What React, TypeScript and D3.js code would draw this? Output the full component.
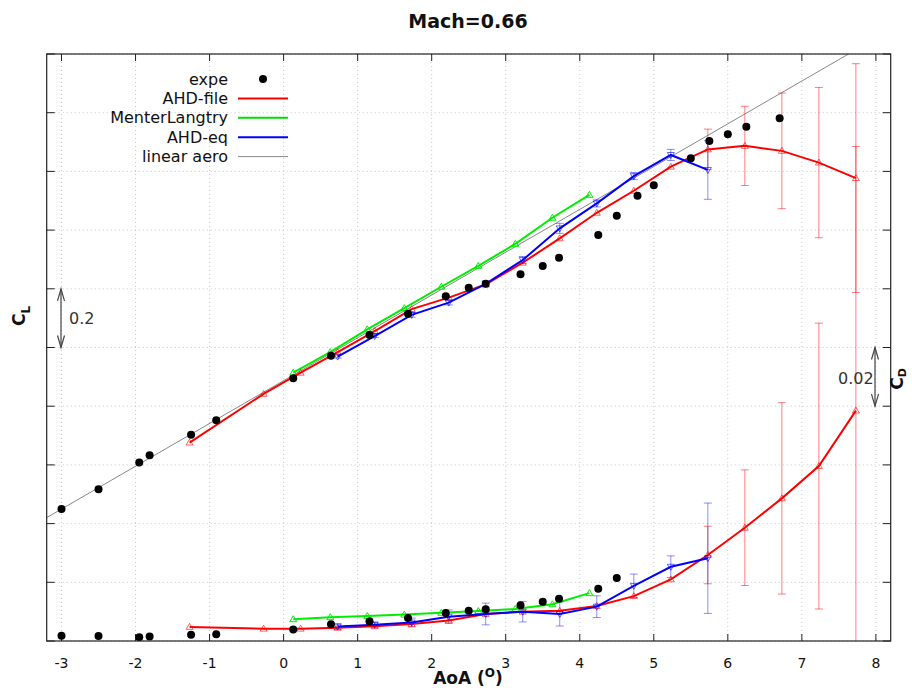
import React from 'react';
import * as d3 from 'd3';

// ---------- data ----------
const expeAoA = [-3.0, -2.5, -1.95, -1.81, -1.25, -0.91, 0.13, 0.64, 1.16, 1.68, 2.19, 2.5, 2.73, 3.2, 3.5, 3.72, 4.25, 4.5, 4.78, 5.0, 5.5, 5.75, 6.0, 6.25, 6.7];
const expeCL = [0.05, 0.117, 0.208, 0.233, 0.303, 0.352, 0.495, 0.572, 0.643, 0.715, 0.775, 0.804, 0.817, 0.85, 0.878, 0.906, 0.983, 1.049, 1.117, 1.153, 1.245, 1.304, 1.327, 1.352, 1.381];
const expeCDAoA = [-3.0, -2.5, -1.95, -1.81, -1.25, -0.91, 0.13, 0.64, 1.16, 1.68, 2.19, 2.5, 2.73, 3.2, 3.5, 3.72, 4.25, 4.5];
const expeCD = [0.0068, 0.0067, 0.0063, 0.0065, 0.0071, 0.0073, 0.0089, 0.0107, 0.0117, 0.0128, 0.0145, 0.0153, 0.0158, 0.0172, 0.0184, 0.0194, 0.0228, 0.0265];

const ahdFileAoA = [-1.27, -0.27, 0.23, 0.73, 1.23, 1.73, 2.23, 2.73, 3.23, 3.73, 4.23, 4.73, 5.23, 5.73, 6.23, 6.73, 7.23, 7.73];
const ahdFileCL = [0.276, 0.442, 0.514, 0.584, 0.656, 0.731, 0.77, 0.815, 0.889, 0.972, 1.059, 1.134, 1.216, 1.275, 1.287, 1.27, 1.23, 1.177];
const ahdFileCLErr = [0, 0, 0, 0, 0, 0, 0, 0, 0, 0, 0, 0, 0, 0.069, 0.135, 0.197, 0.256, 0.39];
const ahdFileCD = [0.0098, 0.0092, 0.0092, 0.0095, 0.01, 0.0108, 0.012, 0.0142, 0.015, 0.0153, 0.0169, 0.0203, 0.026, 0.0343, 0.0436, 0.0536, 0.0646, 0.0835];
const ahdFileCDErr = [0, 0, 0, 0, 0, 0, 0, 0, 0, 0, 0, 0, 0, 0.0098, 0.0197, 0.0326, 0.0487, 0.09];

const menterAoA = [0.13, 0.63, 1.13, 1.63, 2.13, 2.63, 3.13, 3.63, 4.13];
const menterCL = [0.514, 0.584, 0.662, 0.734, 0.807, 0.878, 0.953, 1.042, 1.12];
const menterCD = [0.0124, 0.0131, 0.0135, 0.014, 0.0146, 0.0152, 0.0159, 0.0175, 0.0213];

const ahdEqAoA = [0.73, 1.23, 1.73, 2.23, 2.73, 3.23, 3.73, 4.23, 4.73, 5.23, 5.73];
const ahdEqCL = [0.569, 0.639, 0.711, 0.753, 0.817, 0.898, 1.006, 1.091, 1.184, 1.256, 1.205];
const ahdEqCLErr = [0.005, 0.005, 0.008, 0.008, 0.01, 0.012, 0.017, 0.012, 0.012, 0.019, 0.1];
const ahdEqCD = [0.0099, 0.0105, 0.0113, 0.0133, 0.0142, 0.015, 0.0142, 0.0167, 0.0238, 0.0303, 0.0332];
const ahdEqCDErr = [0.001, 0.001, 0.0015, 0.0023, 0.0037, 0.0035, 0.0041, 0.0037, 0.004, 0.0037, 0.0188];

const linearAoA = [-3.2, 8.2];
const linearCL = [0.0204, 1.683];

const xTicks = [-3, -2, -1, 0, 1, 2, 3, 4, 5, 6, 7, 8];
const clTicks = [-0.4, -0.2, 0, 0.2, 0.4, 0.6, 0.8, 1.0, 1.2, 1.4, 1.6];

const legendNames = ['expe', 'AHD-file', 'MenterLangtry', 'AHD-eq', 'linear aero'];
const legendColors = ['#000', '#ff0000', '#00dd00', '#0000ff', '#888888'];

// ---------- layout ----------
const W = 912, H = 688;
const L = 46.7, R = 890.7, T = 54, B = 641;
const FONT = 'DejaVu Sans, sans-serif';

export default function App() {
  const x = d3.scaleLinear().domain([-3.2, 8.2]).range([L, R]);
  const yCL = d3.scaleLinear().domain([-0.4, 1.6]).range([B, T]);
  const yCD = d3.scaleLinear().domain([0.005, 0.205]).range([B, T]);

  const line = (xs: number[], ys: number[], ys2: (v: number) => number) =>
    d3.line<number>().x((_, i) => x(xs[i])).y((v) => ys2(v))(ys) || '';

  const triUp = (cx: number, cy: number, s = 3.5) =>
    `M${cx},${cy - s}L${cx + s},${cy + s * 0.7}L${cx - s},${cy + s * 0.7}Z`;
  const triDown = (cx: number, cy: number, s = 3.5) =>
    `M${cx},${cy + s}L${cx + s},${cy - s * 0.7}L${cx - s},${cy - s * 0.7}Z`;

  const errBars = (xs: number[], vs: number[], es: number[], ys: (v: number) => number, color: string, op: number, key: string) =>
    xs.map((a, i) => {
      const e = es[i];
      if (!e) return null;
      const px = x(a);
      const y1 = ys(vs[i] - e), y2 = ys(vs[i] + e);
      return (
        <g key={key + i} stroke={color} strokeOpacity={op} strokeWidth={1}>
          <line x1={px} x2={px} y1={y1} y2={y2} />
          <line x1={px - 4} x2={px + 4} y1={y1} y2={y1} />
          <line x1={px - 4} x2={px + 4} y1={y2} y2={y2} />
        </g>
      );
    });

  const arrow = (ax: number, y1: number, y2: number) => (
    <g stroke="#444" strokeWidth={1.2} fill="none">
      <line x1={ax} x2={ax} y1={y1} y2={y2} />
      <path d={`M${ax - 3.5},${y1 + 12}L${ax},${y1}L${ax + 3.5},${y1 + 12}`} />
      <path d={`M${ax - 3.5},${y2 - 12}L${ax},${y2}L${ax + 3.5},${y2 - 12}`} />
    </g>
  );

  return (
    <svg width={W} height={H} style={{ position: 'absolute', left: 0, top: 0, background: '#fff' }} fontFamily={FONT}>
      <defs>
        <clipPath id="plot">
          <rect x={L} y={T} width={R - L} height={B - T} />
        </clipPath>
      </defs>
      <rect x={0} y={0} width={W} height={H} fill="#fff" />

      {/* grid */}
      <g stroke="#c8c8c8" strokeWidth={1} strokeDasharray="1,3">
        {xTicks.map((t) => (
          <line key={'gx' + t} x1={x(t)} x2={x(t)} y1={T} y2={B} />
        ))}
        {clTicks.map((t) => (
          <line key={'gy' + t} x1={L} x2={R} y1={yCL(t)} y2={yCL(t)} />
        ))}
      </g>

      {/* ticks */}
      <g stroke="#222" strokeWidth={1}>
        {xTicks.map((t) => (
          <g key={'tx' + t}>
            <line x1={x(t)} x2={x(t)} y1={B} y2={B - 7} />
            <line x1={x(t)} x2={x(t)} y1={T} y2={T + 7} />
          </g>
        ))}
        {clTicks.map((t) => (
          <g key={'ty' + t}>
            <line x1={L} x2={L + 8} y1={yCL(t)} y2={yCL(t)} />
            <line x1={R} x2={R - 8} y1={yCL(t)} y2={yCL(t)} />
          </g>
        ))}
      </g>

      {/* series */}
      <g clipPath="url(#plot)">
        <path d={line(linearAoA, linearCL, yCL)} stroke="#888" strokeWidth={1} fill="none" />

        {errBars(ahdFileAoA, ahdFileCL, ahdFileCLErr, yCL, '#ff0000', 0.5, 'rcl')}
        {errBars(ahdFileAoA, ahdFileCD, ahdFileCDErr, yCD, '#ff0000', 0.5, 'rcd')}
        {errBars(ahdEqAoA, ahdEqCL, ahdEqCLErr, yCL, '#0000ff', 0.45, 'bcl')}
        {errBars(ahdEqAoA, ahdEqCD, ahdEqCDErr, yCD, '#0000ff', 0.45, 'bcd')}

        <path d={line(menterAoA, menterCL, yCL)} stroke="#00ee00" strokeWidth={2} fill="none" />
        <path d={line(menterAoA, menterCD, yCD)} stroke="#00ee00" strokeWidth={2} fill="none" />
        {menterAoA.map((a, i) => (
          <g key={'gm' + i} stroke="#00ee00" strokeWidth={1} fill="none">
            <path d={triUp(x(a), yCL(menterCL[i]))} />
            <path d={triUp(x(a), yCD(menterCD[i]))} />
          </g>
        ))}

        <path d={line(ahdFileAoA, ahdFileCL, yCL)} stroke="#ff0000" strokeWidth={2} fill="none" />
        <path d={line(ahdFileAoA, ahdFileCD, yCD)} stroke="#ff0000" strokeWidth={2} fill="none" />
        {ahdFileAoA.map((a, i) => (
          <g key={'rm' + i} stroke="#ff0000" strokeOpacity={0.6} strokeWidth={1} fill="none">
            <path d={triUp(x(a), yCL(ahdFileCL[i]))} />
            <path d={triUp(x(a), yCD(ahdFileCD[i]))} />
          </g>
        ))}

        <path d={line(ahdEqAoA, ahdEqCL, yCL)} stroke="#0000ff" strokeWidth={2} fill="none" />
        <path d={line(ahdEqAoA, ahdEqCD, yCD)} stroke="#0000ff" strokeWidth={2} fill="none" />
        {ahdEqAoA.map((a, i) => (
          <g key={'bm' + i} stroke="#0000ff" strokeOpacity={0.6} strokeWidth={1} fill="none">
            <path d={triDown(x(a), yCL(ahdEqCL[i]))} />
            <path d={triDown(x(a), yCD(ahdEqCD[i]))} />
          </g>
        ))}

        {expeAoA.map((a, i) => (
          <circle key={'ec' + i} cx={x(a)} cy={yCL(expeCL[i])} r={4} fill="#000" />
        ))}
        {expeCDAoA.map((a, i) => (
          <circle key={'ed' + i} cx={x(a)} cy={yCD(expeCD[i])} r={4} fill="#000" />
        ))}
      </g>

      {/* frame */}
      <rect x={L} y={T} width={R - L} height={B - T} fill="none" stroke="#222" strokeWidth={1.2} />

      {/* x tick labels */}
      <g fontSize={14} fill="#111" textAnchor="middle">
        {xTicks.map((t) => (
          <text key={'lx' + t} x={x(t)} y={668}>{t}</text>
        ))}
      </g>

      {/* title & axis labels */}
      <text x={468} y={28} textAnchor="middle" fontSize={19} fontWeight="bold" fill="#111">Mach=0.66</text>
      <text x={468} y={684} textAnchor="middle" fontSize={17} fontWeight="bold" fill="#111">
        AoA (<tspan fontSize={12} dy={-7}>O</tspan><tspan dy={7}>)</tspan>
      </text>
      <text transform="translate(25,316) rotate(-90)" textAnchor="middle" fontSize={17} fontWeight="bold" fill="#111">
        C<tspan fontSize={12} dy={5}>L</tspan>
      </text>
      <text transform="translate(903,379) rotate(-90)" textAnchor="middle" fontSize={17} fontWeight="bold" fill="#111">
        C<tspan fontSize={11} dy={3}>D</tspan>
      </text>

      {/* scale arrows */}
      {arrow(61, yCL(0.8), yCL(0.6))}
      <text x={69} y={324} fontSize={16} fill="#333">0.2</text>
      {arrow(875, yCD(0.105), yCD(0.085))}
      <text x={838} y={384} fontSize={16} fill="#333">0.02</text>

      {/* legend */}
      <g fontSize={16} fill="#111">
        {legendNames.map((n, i) => {
          const ly = 79 + i * 19.4;
          return (
            <g key={'lg' + i}>
              <text x={228} y={ly + 5.5} textAnchor="end">{n}</text>
              {i === 0 ? (
                <circle cx={263} cy={ly} r={4} fill="#000" />
              ) : (
                <line x1={238} x2={288} y1={ly} y2={ly} stroke={legendColors[i]} strokeWidth={i === 4 ? 1 : 2} />
              )}
            </g>
          );
        })}
      </g>
    </svg>
  );
}
